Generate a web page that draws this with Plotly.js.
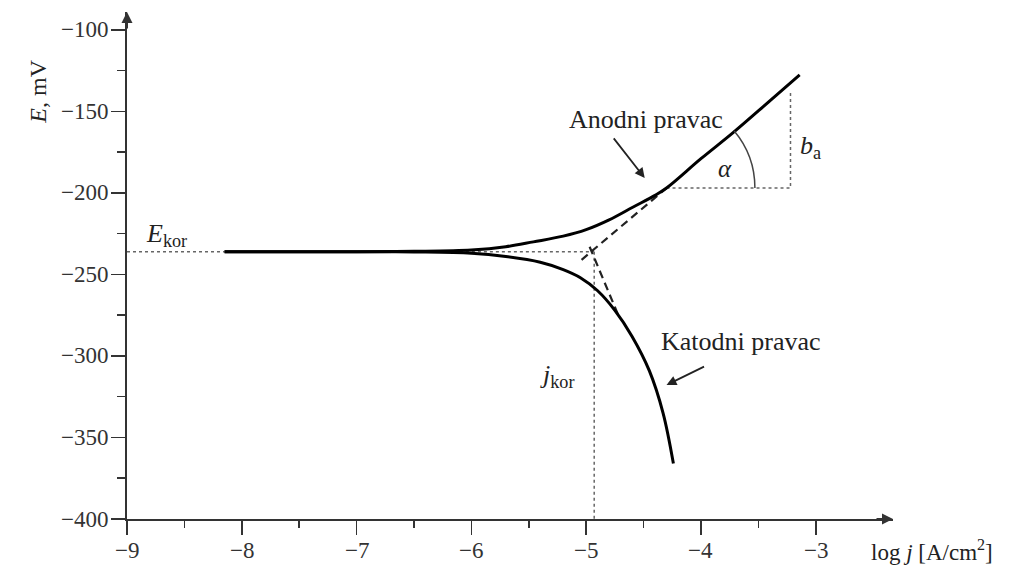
<!DOCTYPE html>
<html>
<head>
<meta charset="utf-8">
<script src="https://cdn.plot.ly/plotly-3.0.1.min.js"></script>
<style>
  html, body { margin: 0; padding: 0; background: #fff; }
  #chart { width: 1029px; height: 567px; }
</style>
</head>
<body>
<div id="chart"></div>
<script>
// Polarization curve (Tafel plot)

// corrosion point
const eKor = -236;     // mV
const jKor = -4.93;    // log j

// anodic branch (solid)
const anodicX = [-8.15, -7, -6.5, -6.0, -5.7, -5.46, -5.2, -5.0, -4.8, -4.59, -4.4, -4.3, -4.0, -3.72, -3.4, -3.14];
const anodicE = [-236, -236, -235.8, -235, -233, -230, -226.5, -222.5, -216.5, -208.6, -201.5, -197, -179, -163, -143.5, -127.6];

// cathodic branch (solid)
const cathodicX = [-8.15, -7, -6.5, -6.0, -5.7, -5.4, -5.2, -5.05, -4.9, -4.75, -4.6, -4.45, -4.33, -4.24];
const cathodicE = [-236, -236, -236.2, -237, -239, -242.5, -247, -252, -260, -272, -288, -309, -335, -366];

// extrapolated Tafel lines (dashed)
const anodicTafelX = [-5.04, -4.30];
const anodicTafelE = [-241, -197];
const cathodicTafelX = [-4.97, -4.72];
const cathodicTafelE = [-233, -275];

// b_a triangle (dotted)
const baX = [-4.30, -3.22, -3.22];
const baE = [-197, -197, -137];

const xTicks = [-9, -8, -7, -6, -5, -4, -3];
const xMinor = [-8.5, -7.5, -6.5, -5.5, -4.5, -3.5];
const yTicks = [-400, -350, -300, -250, -200, -150, -100];
const yMinor = [-375, -325, -275, -225, -175, -125];

const serif = 'Liberation Serif';
const ink = '#222';
const axisInk = '#333';
const dotColor = '#666';

function line(x, y, opts) {
    return Object.assign({
        x: x, y: y, type: 'scatter', mode: 'lines',
        hoverinfo: 'skip', showlegend: false
    }, opts);
}

function minusLabel(v) {
    return (v < 0 ? '\u2212' : '') + Math.abs(v);
}

const data = [
    // dotted guides
    line([-9, anodicX[0]], [eKor, eKor], { line: { color: dotColor, width: 1.5, dash: 'dot' } }),
    line([-6.1, jKor], [eKor, eKor], { line: { color: dotColor, width: 1.5, dash: 'dot' } }),
    line([jKor, jKor], [eKor, -400], { line: { color: dotColor, width: 1.5, dash: 'dot' } }),
    line(baX, baE, { line: { color: dotColor, width: 1.5, dash: 'dot' } }),
    // dashed Tafel extrapolations
    line(anodicTafelX, anodicTafelE, { line: { color: ink, width: 2.2, dash: '8px,5px' } }),
    line(cathodicTafelX, cathodicTafelE, { line: { color: ink, width: 2.2, dash: '8px,5px' } }),
    // measured curves
    line(anodicX, anodicE, { line: { color: '#000', width: 3, shape: 'spline', smoothing: 1 } }),
    line(cathodicX, cathodicE, { line: { color: '#000', width: 3, shape: 'spline', smoothing: 1 } })
];

const axisCommon = {
    showgrid: false,
    zeroline: false,
    showline: true,
    linecolor: axisInk,
    linewidth: 2,
    ticks: 'outside',
    ticklen: 14,
    tickwidth: 1.5,
    tickcolor: axisInk,
    showticklabels: false,
    fixedrange: true
};

// tick labels drawn as annotations so the serif font and size stick
const tickLabels = [];
xTicks.forEach(v => tickLabels.push({
    x: v, xref: 'x', y: 0, yref: 'paper', yanchor: 'middle', yshift: -31,
    text: minusLabel(v), showarrow: false,
    font: { family: serif, size: 23, color: axisInk }
}));
yTicks.forEach(v => tickLabels.push({
    x: 0, xref: 'paper', y: v, yref: 'y', xanchor: 'right', xshift: -17,
    text: minusLabel(v), showarrow: false,
    font: { family: serif, size: 23, color: axisInk }
}));

const layout = {
    width: 1029,
    height: 567,
    margin: { l: 127, r: 136, t: 12, b: 48 },
    paper_bgcolor: '#fff',
    plot_bgcolor: '#fff',
    showlegend: false,
    font: { family: serif, color: ink, size: 22 },
    xaxis: Object.assign({}, axisCommon, {
        range: [-9, -2.327],
        tickmode: 'array',
        tickvals: xTicks,
        minor: { tickvals: xMinor, ticklen: 7, tickwidth: 1.5, tickcolor: axisInk, ticks: 'outside' }
    }),
    yaxis: Object.assign({}, axisCommon, {
        range: [-400, -89],
        tickmode: 'array',
        tickvals: yTicks,
        minor: { tickvals: yMinor, ticklen: 8, tickwidth: 1.5, tickcolor: axisInk, ticks: 'outside' }
    }),
    shapes: [
        // angle arc alpha
        {
            type: 'path', xref: 'x', yref: 'y',
            path: 'M -3.53,-197 Q -3.53,-177.1 -3.71,-162',
            line: { color: '#444', width: 1.5 }
        }
    ],
    annotations: tickLabels.concat([
        // axis arrows
        { xref: 'paper', yref: 'paper', x: 1, y: 0, ax: -18, ay: 0, text: '', showarrow: true,
          arrowhead: 2, arrowsize: 1.1, arrowwidth: 2, arrowcolor: axisInk, standoff: 0 },
        { xref: 'paper', yref: 'paper', x: 0, y: 1, ax: 0, ay: 18, text: '', showarrow: true,
          arrowhead: 2, arrowsize: 1.1, arrowwidth: 2, arrowcolor: axisInk, standoff: 0 },
        // axis titles
        { xref: 'paper', yref: 'paper', x: 1.0, y: 0, xanchor: 'left', yanchor: 'middle', xshift: -24, yshift: -31,
          text: 'log <i>j</i> [A/cm<sup>2</sup>]', showarrow: false,
          font: { family: serif, size: 23, color: ink } },
        { xref: 'paper', yref: 'paper', x: 0, y: 0.91, xshift: -104, textangle: -90,
          text: '<i>E</i>, mV', showarrow: false,
          font: { family: serif, size: 24, color: ink } },
        // labels
        { x: -8.66, y: -226, text: '<i>E</i><sub>kor</sub>', showarrow: false,
          font: { family: serif, size: 26, color: ink } },
        { x: -5.25, y: -312, text: '<i>j</i><sub>kor</sub>', showarrow: false,
          font: { family: serif, size: 26, color: ink } },
        { x: -3.05, y: -172, text: '<i>b</i><sub>a</sub>', showarrow: false,
          font: { family: serif, size: 26, color: ink } },
        { x: -3.79, y: -185, text: '<i>α</i>', showarrow: false,
          font: { family: serif, size: 25, color: ink } },
        { x: -4.48, y: -155, text: 'Anodni pravac', showarrow: false,
          font: { family: serif, size: 26, color: ink } },
        { x: -3.65, y: -291, text: 'Katodni pravac', showarrow: false,
          font: { family: serif, size: 26, color: ink } },
        // pointer arrows
        { x: -4.49, y: -190.8, ax: -4.77, ay: -165.6, axref: 'x', ayref: 'y', text: '',
          showarrow: true, arrowhead: 2, arrowsize: 1.1, arrowwidth: 1.8, arrowcolor: ink, standoff: 0 },
        { x: -4.30, y: -317.8, ax: -3.96, ay: -306.1, axref: 'x', ayref: 'y', text: '',
          showarrow: true, arrowhead: 2, arrowsize: 1.1, arrowwidth: 1.8, arrowcolor: ink, standoff: 0 }
    ])
};

Plotly.newPlot('chart', data, layout, { staticPlot: true, displayModeBar: false });
</script>
</body>
</html>
